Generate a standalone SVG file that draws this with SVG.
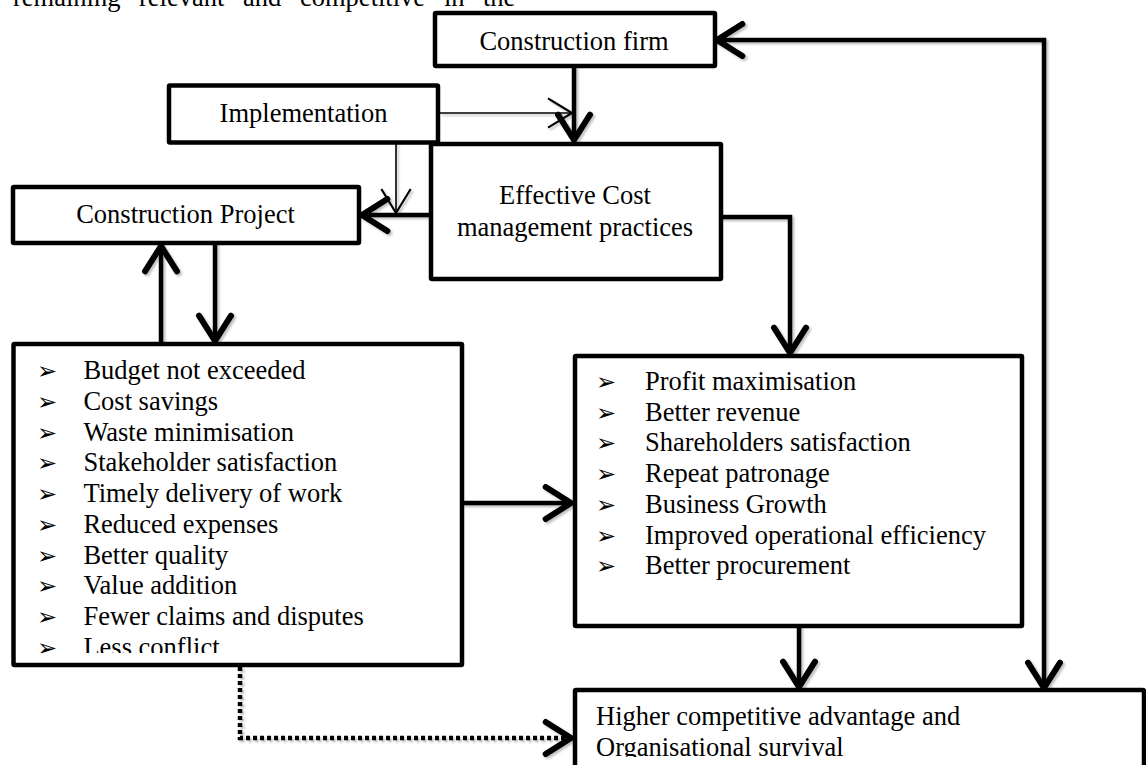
<svg xmlns="http://www.w3.org/2000/svg" width="1146" height="765" viewBox="0 0 1146 765">
<style>
text{font-family:"Liberation Serif","Times New Roman",serif;font-size:26.5px;fill:#000}
.c{text-anchor:middle}
.b{font-family:"DejaVu Sans",sans-serif;font-size:24px}
.box{fill:#fff;stroke:#000;stroke-width:4.5;stroke-linejoin:round}
.con{fill:none;stroke:#000;stroke-width:4.5}
.thin{fill:none;stroke:#000;stroke-width:1.6}
.dot{fill:none;stroke:#000;stroke-width:4.5;stroke-dasharray:4 3}
</style>
<defs>
<marker id="ah" markerUnits="userSpaceOnUse" markerWidth="40" markerHeight="40" refX="0" refY="0" viewBox="-25 -15 30 30" orient="auto-start-reverse">
<path d="M-19 -12 L0 0 L-19 12" fill="none" stroke="#000" stroke-width="4.5" stroke-linecap="round" stroke-linejoin="miter"/>
</marker>
<marker id="aht" markerUnits="userSpaceOnUse" markerWidth="40" markerHeight="40" refX="0" refY="0" viewBox="-25 -15 30 30" orient="auto">
<path d="M-18 -11 L0 0 L-18 11" fill="none" stroke="#000" stroke-width="1.6"/>
</marker>
<clipPath id="clipL"><rect x="0" y="340" width="470" height="313"/></clipPath>
<clipPath id="clipB"><rect x="570" y="690" width="576" height="67"/></clipPath>
<filter id="sh" x="-10%" y="-10%" width="130%" height="130%"><feDropShadow dx="2" dy="2" stdDeviation="1.2" flood-color="#000" flood-opacity="0.25"/></filter>
</defs>

<g id="para">
<text x="13" y="6">remaining</text>
<text x="139" y="6">relevant</text>
<text x="243" y="6">and</text>
<text x="300" y="6">competitive</text>
<text x="444" y="6">in</text>
<text x="483" y="6">the</text>
</g>

<g id="connectors" filter="url(#sh)">
<path class="con" d="M717 40 L1044 40 L1044 688" marker-start="url(#ah)" marker-end="url(#ah)"/>
<path class="con" d="M574 66 L574 140" marker-end="url(#ah)"/>
<path class="thin" d="M440 113 L572 113" marker-end="url(#aht)"/>
<path class="thin" d="M396 133 L396 213" marker-end="url(#aht)"/>
<path class="con" d="M431 215 L362 215" marker-end="url(#ah)"/>
<path class="con" d="M721 217 L790 217 L790 353" marker-end="url(#ah)"/>
<path class="con" d="M161 344 L161 246" marker-end="url(#ah)"/>
<path class="con" d="M215 243 L215 341" marker-end="url(#ah)"/>
<path class="con" d="M462 503 L571 503" marker-end="url(#ah)"/>
<path class="con" d="M799 626 L799 687" marker-end="url(#ah)"/>
<path class="dot" d="M240 667 L240 738 L568 738"/>
<path class="con" d="M568 738 L571 738" marker-end="url(#ah)"/>
</g>

<g id="firm">
<rect class="box" x="435" y="13" width="280" height="53" rx="1"/>
<text class="c" x="574" y="50">Construction firm</text>
</g>

<g id="implementation">
<rect class="box" x="169" y="85.5" width="269" height="57" rx="1"/>
<text class="c" x="303.5" y="121.7">Implementation</text>
</g>

<g id="ecm">
<rect class="box" x="431" y="144" width="290" height="135" rx="1"/>
<text class="c" x="575" y="204">Effective Cost</text>
<text class="c" x="575" y="236">management practices</text>
</g>

<g id="project">
<rect class="box" x="13" y="187" width="346" height="56" rx="1"/>
<text class="c" x="185.5" y="223.3">Construction Project</text>
</g>

<g id="project-outcomes">
<rect class="box" x="13.5" y="344" width="448.5" height="321" rx="1"/>
<g clip-path="url(#clipL)">
<text class="b" x="37" y="379.3">➢</text><text x="83.4" y="379.3">Budget not exceeded</text>
<text class="b" x="37" y="410">➢</text><text x="83.4" y="410">Cost savings</text>
<text class="b" x="37" y="440.7">➢</text><text x="83.4" y="440.7">Waste minimisation</text>
<text class="b" x="37" y="471.4">➢</text><text x="83.4" y="471.4">Stakeholder satisfaction</text>
<text class="b" x="37" y="502.1">➢</text><text x="83.4" y="502.1">Timely delivery of work</text>
<text class="b" x="37" y="532.8">➢</text><text x="83.4" y="532.8">Reduced expenses</text>
<text class="b" x="37" y="563.5">➢</text><text x="83.4" y="563.5">Better quality</text>
<text class="b" x="37" y="594.2">➢</text><text x="83.4" y="594.2">Value addition</text>
<text class="b" x="37" y="624.9">➢</text><text x="83.4" y="624.9">Fewer claims and disputes</text>
<text class="b" x="37" y="655.6">➢</text><text x="83.4" y="655.6">Less conflict</text>
</g>
</g>

<g id="firm-outcomes">
<rect class="box" x="575" y="356" width="447" height="270" rx="1"/>
<text class="b" x="596" y="390">➢</text><text x="645" y="390">Profit maximisation</text>
<text class="b" x="596" y="420.7">➢</text><text x="645" y="420.7">Better revenue</text>
<text class="b" x="596" y="451.4">➢</text><text x="645" y="451.4">Shareholders satisfaction</text>
<text class="b" x="596" y="482.1">➢</text><text x="645" y="482.1">Repeat patronage</text>
<text class="b" x="596" y="512.8">➢</text><text x="645" y="512.8">Business Growth</text>
<text class="b" x="596" y="543.5">➢</text><text x="645" y="543.5">Improved operational efficiency</text>
<text class="b" x="596" y="574.2">➢</text><text x="645" y="574.2">Better procurement</text>
</g>

<g id="advantage">
<rect class="box" x="575" y="690" width="569" height="120" rx="1"/>
<g clip-path="url(#clipB)">
<text x="596" y="725">Higher competitive advantage and</text>
<text x="596" y="756">Organisational survival</text>
</g>
</g>
</svg>
